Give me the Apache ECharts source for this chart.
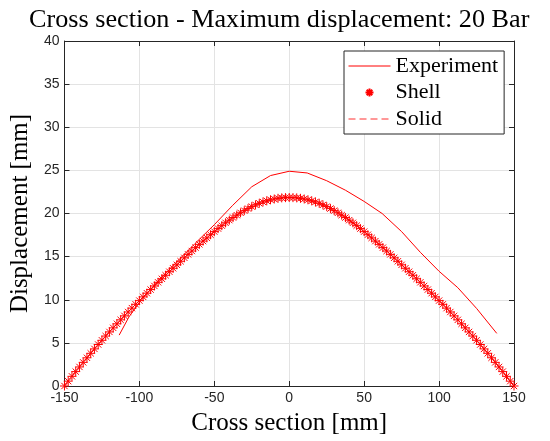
<!DOCTYPE html>
<html><head><meta charset="utf-8">
<script src="https://cdn.jsdelivr.net/npm/echarts@6/dist/echarts.min.js"></script>
<style>html,body{margin:0;padding:0;background:#fff}#c{width:550px;height:441px}</style>
</head><body><div id="c"></div>
<script>
// ---- data ----
const titleText = 'Cross section - Maximum displacement: 20 Bar';
const xName = 'Cross section [mm]';
const yName = 'Displacement [mm]';
const xMin = -150, xMax = 150, xStep = 50;
const yMin = 0, yMax = 40, yStep = 5;

const expX = [-113.5, -107, -100, -88, -75, -63, -50, -38, -25, -12.5, 0, 12, 25, 37.5, 50, 62, 75, 87.5, 100, 112.5, 125, 138.5];
const expY = [5.9, 8.0, 9.7, 12.1, 14.4, 16.5, 18.7, 20.9, 23.1, 24.4, 24.9, 24.7, 23.8, 22.7, 21.4, 20.0, 17.9, 15.5, 13.3, 11.4, 9.0, 6.1];

const shellX = [
  -150, -147.5, -145, -142.5, -140, -137.5, -135, -132.5, -130, -127.5,
  -125, -122.5, -120, -117.5, -115, -112.5, -110, -107.5, -105, -102.5,
  -100, -97.5, -95, -92.5, -90, -87.5, -85, -82.5, -80, -77.5,
  -75, -72.5, -70, -67.5, -65, -62.5, -60, -57.5, -55, -52.5,
  -50, -47.5, -45, -42.5, -40, -37.5, -35, -32.5, -30, -27.5,
  -25, -22.5, -20, -17.5, -15, -12.5, -10, -7.5, -5, -2.5,
  0,
  2.5, 5, 7.5, 10, 12.5, 15, 17.5, 20, 22.5, 25,
  27.5, 30, 32.5, 35, 37.5, 40, 42.5, 45, 47.5, 50,
  52.5, 55, 57.5, 60, 62.5, 65, 67.5, 70, 72.5, 75,
  77.5, 80, 82.5, 85, 87.5, 90, 92.5, 95, 97.5, 100,
  102.5, 105, 107.5, 110, 112.5, 115, 117.5, 120, 122.5, 125,
  127.5, 130, 132.5, 135, 137.5, 140, 142.5, 145, 147.5, 150
];
const shellY = [
  0, 0.56, 1.12, 1.67, 2.21, 2.74, 3.27, 3.79, 4.30, 4.81,
  5.30, 5.79, 6.27, 6.74, 7.21, 7.67, 8.13, 8.58, 9.03, 9.47,
  9.90, 10.33, 10.76, 11.18, 11.60, 12.02, 12.43, 12.84, 13.25, 13.65,
  14.05, 14.46, 14.86, 15.26, 15.65, 16.04, 16.42, 16.80, 17.17, 17.54,
  17.90, 18.25, 18.59, 18.92, 19.23, 19.53, 19.81, 20.08, 20.33, 20.57,
  20.80, 21.00, 21.18, 21.34, 21.47, 21.59, 21.68, 21.76, 21.81, 21.84,
  21.85,
  21.84, 21.81, 21.76, 21.68, 21.59, 21.47, 21.34, 21.18, 21.00, 20.80,
  20.57, 20.33, 20.08, 19.81, 19.53, 19.23, 18.92, 18.59, 18.25, 17.90,
  17.54, 17.17, 16.80, 16.42, 16.04, 15.65, 15.26, 14.86, 14.46, 14.05,
  13.65, 13.25, 12.84, 12.43, 12.02, 11.60, 11.18, 10.76, 10.33, 9.90,
  9.47, 9.03, 8.58, 8.13, 7.67, 7.21, 6.74, 6.27, 5.79, 5.30,
  4.81, 4.30, 3.79, 3.27, 2.74, 2.21, 1.67, 1.12, 0.56, 0
];
const solidX = shellX;
const solidY = shellY;

const seriesNames = ['Experiment', 'Shell', 'Solid'];

// ---- chart ----
const pairs = (xs, ys) => xs.map((x, i) => [x, ys[i]]);
const dark = '#262626';
const serif = '"Liberation Serif", "DejaVu Serif", serif';
const sans = '"Liberation Sans", Arial, sans-serif';
const star = 'path://M5,0L5,10M0,5L10,5M1.5,1.5L8.5,8.5M1.5,8.5L8.5,1.5';

const baseAxis = {
  axisLine: { show: true, onZero: false, lineStyle: { color: dark, width: 1 } },
  axisTick: { show: true, inside: true, length: 5, lineStyle: { color: dark } },
};

const chart = echarts.init(document.getElementById('c'), null, { renderer: 'canvas' });
chart.setOption({
  animation: false,
  backgroundColor: '#fff',
  title: {
    text: titleText, left: 24, top: 2,
    textStyle: { fontFamily: serif, fontSize: 26.2, fontWeight: 'normal', color: '#000' }
  },
  grid: { left: 62, right: 36, top: 41, bottom: 55, containLabel: false },
  legend: {
    orient: 'vertical', left: 344, top: 51,
    backgroundColor: '#fff', borderColor: dark, borderWidth: 1, borderRadius: 0,
    padding: [4, 6, 4, 4], itemGap: 4.5, itemWidth: 42, itemHeight: 8,
    textStyle: { fontFamily: serif, fontSize: 22, lineHeight: 21, color: '#000' },
    data: [
      { name: seriesNames[0], itemStyle: { opacity: 0 }, lineStyle: { width: 1 } },
      { name: seriesNames[1] },
      { name: seriesNames[2], itemStyle: { opacity: 0 }, lineStyle: { width: 1 } }
    ]
  },
  xAxis: [
    Object.assign({}, baseAxis, {
      type: 'value', min: xMin, max: xMax, interval: xStep, position: 'bottom',
      name: xName, nameLocation: 'middle', nameGap: 25,
      nameTextStyle: { fontFamily: serif, fontSize: 25, color: '#000' },
      axisLabel: { fontFamily: sans, fontSize: 14, color: dark, margin: 5 },
      splitLine: { show: true, lineStyle: { color: '#e3e3e3', width: 1 } }
    }),
    Object.assign({}, baseAxis, {
      type: 'value', min: xMin, max: xMax, interval: xStep, position: 'top',
      axisLabel: { show: false }, splitLine: { show: false }
    })
  ],
  yAxis: [
    Object.assign({}, baseAxis, {
      type: 'value', min: yMin, max: yMax, interval: yStep, position: 'left',
      name: yName, nameLocation: 'middle', nameGap: 30,
      nameTextStyle: { fontFamily: serif, fontSize: 25, color: '#000' },
      axisLabel: { fontFamily: sans, fontSize: 14, color: dark, margin: 5 },
      splitLine: { show: true, lineStyle: { color: '#e3e3e3', width: 1 } }
    }),
    Object.assign({}, baseAxis, {
      type: 'value', min: yMin, max: yMax, interval: yStep, position: 'right',
      axisLabel: { show: false }, splitLine: { show: false }
    })
  ],
  series: [
    {
      name: seriesNames[0], type: 'line', data: pairs(expX, expY),
      showSymbol: false, symbol: 'none', z: 4,
      lineStyle: { color: '#ff0000', width: 1 }, itemStyle: { color: '#ff0000' }
    },
    {
      name: seriesNames[1], type: 'scatter', data: pairs(shellX, shellY),
      symbol: star, symbolSize: 9, z: 3,
      itemStyle: { color: '#ff0000', borderColor: '#ff0000', borderWidth: 1, opacity: 1 }
    },
    {
      name: seriesNames[2], type: 'line', data: pairs(solidX, solidY),
      showSymbol: false, symbol: 'none', z: 2,
      lineStyle: { color: '#ff3030', width: 1, type: [7, 4] }, itemStyle: { color: '#ff3030' }
    }
  ]
});
</script>
</body></html>
